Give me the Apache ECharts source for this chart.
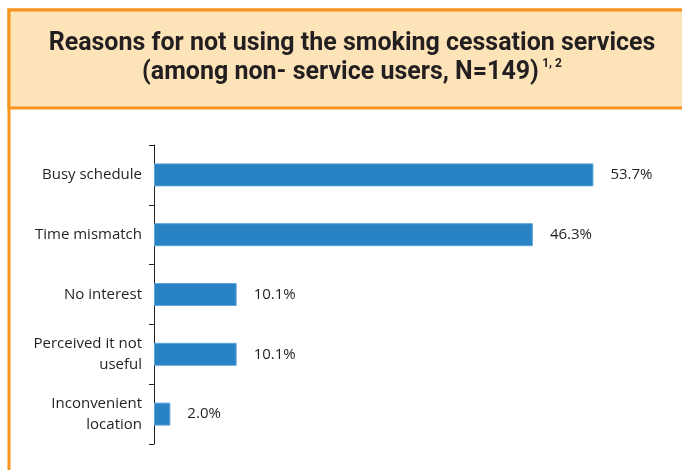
<!DOCTYPE html>
<html>
<head>
<meta charset="utf-8">
<script src="https://cdn.jsdelivr.net/npm/echarts@6/dist/echarts.min.js"></script>
<style>
    html, body { margin: 0; padding: 0; background: #fff; }
    #my_echart { width: 682px; height: 470px; }
</style>
</head>
<body>
<div id="my_echart"></div>
<script>
// 数据
var categories = ['Busy schedule', 'Time mismatch', 'No interest', 'Perceived it not\nuseful', 'Inconvenient\nlocation'];
var values = [53.7, 46.3, 10.1, 10.1, 2.0];

var mychart = echarts.init(document.getElementById('my_echart'));

mychart.setOption({
    animation: false,
    textStyle: { fontFamily: 'Open Sans' },
    graphic: [
        {
            type: 'rect',
            z: -10,
            shape: { x: 9, y: 10, width: 690, height: 480 },
            style: { fill: '#fff', stroke: '#F7941D', lineWidth: 3 }
        },
        {
            type: 'rect',
            z: -9,
            shape: { x: 9, y: 10, width: 690, height: 98 },
            style: { fill: '#FDE3B8', stroke: '#F7941D', lineWidth: 3 }
        },
        {
            type: 'text',
            z: 10,
            x: 352,
            y: 29,
            style: {
                text: '{t|Reasons for not using the smoking cessation services}\n{t|(among non- service users, N=149)} {s|1, 2}',
                align: 'center',
                rich: {
                    t: {
                        fontFamily: 'Roboto',
                        fontWeight: 'bold',
                        fontSize: 25,
                        lineHeight: 29,
                        fill: '#231F20'
                    },
                    s: {
                        fontFamily: 'Roboto',
                        fontWeight: 'bold',
                        fontSize: 12,
                        lineHeight: 29,
                        verticalAlign: 'top',
                        fill: '#231F20'
                    }
                }
            }
        }
    ],
    grid: {
        left: 154,
        top: 145,
        height: 299,
        right: 37,
        containLabel: false
    },
    xAxis: {
        type: 'value',
        min: 0,
        max: 60,
        show: false
    },
    yAxis: {
        type: 'category',
        inverse: true,
        data: categories,
        axisLine: { show: true, lineStyle: { color: '#231F20', width: 1 } },
        axisTick: { show: true, length: 5, lineStyle: { color: '#231F20', width: 1 } },
        axisLabel: {
            margin: 12,
            fontSize: 15,
            lineHeight: 21,
            color: '#231F20',
            fontFamily: 'Open Sans'
        }
    },
    series: [
        {
            name: 'Reasons',
            type: 'bar',
            data: values,
            barWidth: 23,
            itemStyle: {
                color: '#2882C3',
                borderColor: '#5EA6DB',
                borderWidth: 1
            },
            label: {
                show: true,
                position: 'right',
                distance: 17,
                fontSize: 15,
                color: '#231F20',
                fontFamily: 'Open Sans',
                formatter: function (p) {
                    return p.value.toFixed(1) + '%';
                }
            }
        }
    ]
});
</script>
</body>
</html>
